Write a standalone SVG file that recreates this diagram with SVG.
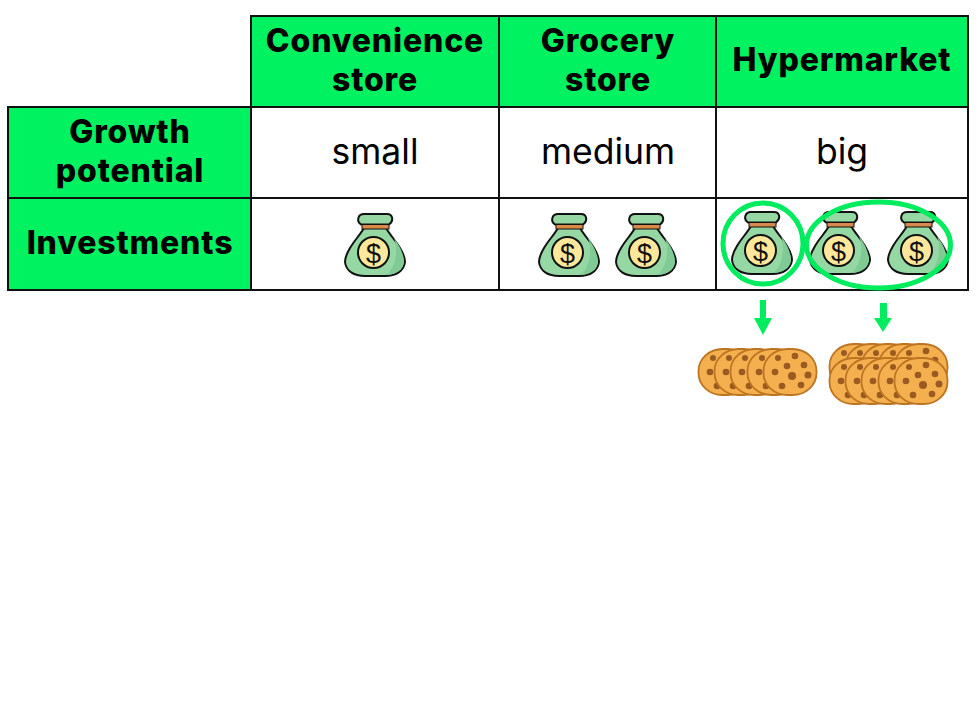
<svg xmlns="http://www.w3.org/2000/svg" width="976" height="703" viewBox="0 0 976 703">
<style>
.h{fill:#00f260;stroke:#111;stroke-width:2}
.c{fill:#fff;stroke:#111;stroke-width:2}
text{font-family:"Inter","Liberation Sans",sans-serif;text-anchor:middle;fill:#000}
.b{font-size:32px;font-weight:800;letter-spacing:.85px}
.r{font-size:35.500px;font-weight:400}
.ring{fill:none;stroke:#00ec5f;stroke-width:5}
.arr{fill:#00ec5f}
.chip{fill:#9a5a22}
</style>
<defs>
<symbol id="bag" overflow="visible" viewBox="0 0 60 64" width="60" height="64">
<path d="M19 15C15 22 9 28 5 35C2 40 0 44 0 49C1 58 9 63 20 63L40 63C51 63 59 58 60 49C60 44 58 40 55 35C51 28 45 22 41 15Z" fill="#95d8a4" stroke="#111" stroke-width="2"/>
<path d="M49 25C55 33 59 42 59 49C58 57 50 62 42 62C50 54 54 38 49 25Z" fill="#80ca95"/>
<path d="M19 1H42C48 1 49 8 44 11.500H16C11 8 13 1 19 1Z" fill="#95d8a4" stroke="#111" stroke-width="2"/>
<rect x="17" y="11.500" width="27" height="4.500" fill="#d98a4a" stroke="#111" stroke-width="1"/>
<circle cx="28.500" cy="39.500" r="15.500" fill="#fde79b" stroke="#111" stroke-width="2"/>
<text x="28.500" y="49.500" style="font-family:'Liberation Sans',sans-serif;font-size:27px;font-weight:400;fill:#111">$</text>
</symbol>
<g id="cookie">
<rect x="-26.500" y="-23" width="53" height="46" rx="24" ry="22" fill="#f4b04f" stroke="#bd7420" stroke-width="1.800"/>
<circle class="chip" cx="-12" cy="-14" r="3"/><circle class="chip" cx="5" cy="-16" r="3.300"/><circle class="chip" cx="14" cy="-7" r="3.300"/><circle class="chip" cx="-3" cy="-6" r="3.300"/><circle class="chip" cx="-15" cy="0" r="3.300"/><circle class="chip" cx="2" cy="4" r="4"/><circle class="chip" cx="18" cy="3" r="3.500"/><circle class="chip" cx="-8" cy="14" r="3.300"/><circle class="chip" cx="11" cy="13" r="3.300"/>
</g>
</defs>
<g id="header-convenience"><rect class="h" x="251" y="16" width="248" height="91"/><text class="b" x="375" y="52">Convenience</text><text class="b" x="375" y="91">store</text></g>
<g id="header-grocery"><rect class="h" x="499" y="16" width="217" height="91"/><text class="b" x="608" y="52">Grocery</text><text class="b" x="608" y="91">store</text></g>
<g id="header-hypermarket"><rect class="h" x="716" y="16" width="252" height="91"/><text class="b" x="842" y="71">Hypermarket</text></g>
<g id="row-growth"><rect class="h" x="8" y="107" width="243" height="91"/><text class="b" x="130" y="143">Growth</text><text class="b" x="130" y="182">potential</text></g>
<g id="row-investments"><rect class="h" x="8" y="198" width="243" height="92"/><text class="b" x="130" y="254">Investments</text></g>
<g id="cell-small"><rect class="c" x="251" y="107" width="248" height="91"/><text class="r" x="375" y="164">small</text></g>
<g id="cell-medium"><rect class="c" x="499" y="107" width="217" height="91"/><text class="r" x="608" y="164">medium</text></g>
<g id="cell-big"><rect class="c" x="716" y="107" width="252" height="91"/><text class="r" x="842" y="164">big</text></g>
<g id="cell-inv1"><rect class="c" x="251" y="198" width="248" height="92"/><use href="#bag" x="345" y="213"/></g>
<g id="cell-inv2"><rect class="c" x="499" y="198" width="217" height="92"/><use href="#bag" x="539" y="213"/><use href="#bag" x="616" y="213"/></g>
<g id="cell-inv3"><rect class="c" x="716" y="198" width="252" height="92"/><use href="#bag" x="732" y="211"/><use href="#bag" x="810" y="211"/><use href="#bag" x="888" y="211"/></g>
<g id="ring-one"><ellipse class="ring" cx="763" cy="243.500" rx="40" ry="40.500"/></g>
<g id="ring-two"><ellipse class="ring" cx="878.500" cy="245" rx="72" ry="43"/></g>
<g id="connectors">
<path class="arr" d="M760 300H766V318H772L763 335L754 318H760Z"/>
<path class="arr" d="M880 303H887V318H892L883 332L874 318H880Z"/>
</g>
<g id="cookies-five">
<use href="#cookie" x="725" y="372"/><use href="#cookie" x="741" y="372"/><use href="#cookie" x="757" y="372"/><use href="#cookie" x="774" y="372"/><use href="#cookie" x="790" y="372"/>
</g>
<g id="cookies-ten">
<use href="#cookie" x="856" y="367"/><use href="#cookie" x="872" y="367"/><use href="#cookie" x="888" y="367"/><use href="#cookie" x="905" y="367"/><use href="#cookie" x="921" y="367"/>
<use href="#cookie" x="856" y="381"/><use href="#cookie" x="872" y="381"/><use href="#cookie" x="888" y="381"/><use href="#cookie" x="905" y="381"/><use href="#cookie" x="921" y="381"/>
</g>
</svg>
